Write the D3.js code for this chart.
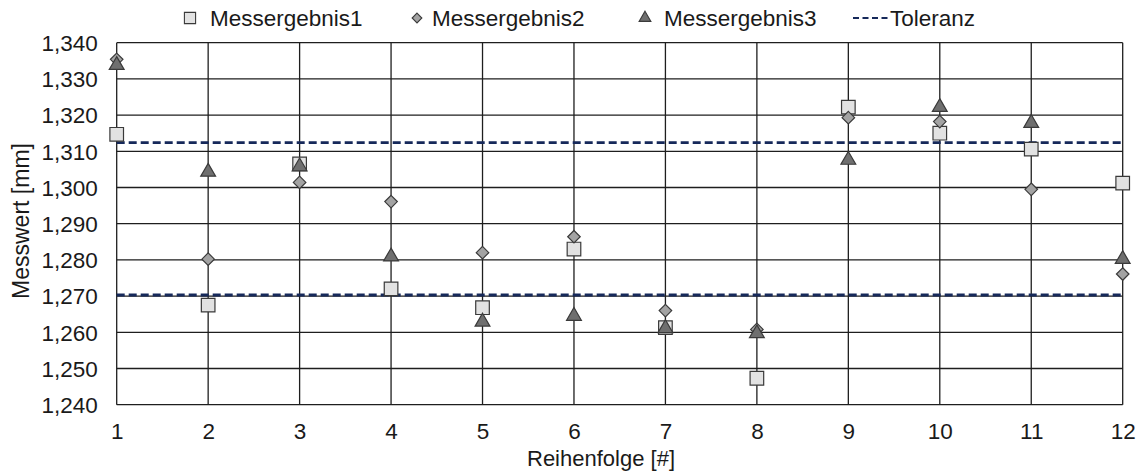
<!DOCTYPE html>
<html>
<head>
<meta charset="utf-8">
<script src="https://cdn.jsdelivr.net/npm/d3@7"></script>
<style>
  html, body { margin: 0; padding: 0; background: #fff; }
  svg text { font-family: "Liberation Sans", Arial, sans-serif !important; fill: #1a1a1a; }
</style>
</head>
<body>
<svg id="chart" width="1141" height="471"></svg>
<script>
const categories = [1, 2, 3, 4, 5, 6, 7, 8, 9, 10, 11, 12];
const messergebnis1 = [1.3147, 1.2675, 1.3065, 1.2720, 1.2668, 1.2830, 1.2613, 1.2473, 1.3222, 1.3150, 1.3106, 1.3012];
const messergebnis2 = [1.3354, 1.2802, 1.3014, 1.2961, 1.2820, 1.2864, 1.2660, 1.2608, 1.3193, 1.3182, 1.2995, 1.2761];
const messergebnis3 = [1.3338, 1.3043, 1.3058, 1.2809, 1.2629, 1.2645, 1.2611, 1.2597, 1.3076, 1.3222, 1.3178, 1.2802];
const toleranz = [1.3124, 1.2703];
const yTicks = [1.240, 1.250, 1.260, 1.270, 1.280, 1.290, 1.300, 1.310, 1.320, 1.330, 1.340];
const seriesNames = ["Messergebnis1", "Messergebnis2", "Messergebnis3", "Toleranz"];

const svg = d3.select("#chart");
const pL = 116.7, pR = 1122.7, pT = 42.7, pB = 404.7;

const x = d3.scaleLinear().domain([1, 12]).range([pL, pR]);
const y = d3.scaleLinear().domain([1.240, 1.340]).range([pB, pT]);
const fmt = v => d3.format(".3f")(v).replace(".", ",");

// grid
const grid = svg.append("g");
grid.selectAll("line.h").data(yTicks).join("line").attr("class", "h")
  .attr("x1", pL).attr("x2", pR)
  .attr("y1", d => y(d)).attr("y2", d => y(d))
  .attr("stroke", "#1e1e1e").attr("stroke-width", 1.3);
grid.selectAll("line.v").data(categories).join("line").attr("class", "v")
  .attr("y1", pT).attr("y2", pB)
  .attr("x1", d => x(d)).attr("x2", d => x(d))
  .attr("stroke", "#1e1e1e").attr("stroke-width", 1.3);

// axes
const yAxis = svg.append("g").attr("transform", `translate(${pL},0)`)
  .call(d3.axisLeft(y).tickValues(yTicks).tickFormat(fmt).tickSize(0).tickPadding(19));
yAxis.select(".domain").remove();
yAxis.attr("font-family", null);
yAxis.selectAll("text").style("font-size", "22.5px").attr("fill", "#1a1a1a").attr("dy", "0.35em");

const xAxis = svg.append("g").attr("transform", `translate(0,${pB})`)
  .call(d3.axisBottom(x).tickValues(categories).tickFormat(d3.format("d")).tickSize(0).tickPadding(18));
xAxis.select(".domain").remove();
xAxis.attr("font-family", null);
xAxis.selectAll("text").style("font-size", "22.5px").attr("fill", "#1a1a1a");

// axis titles
svg.append("text").attr("x", 601).attr("y", 466).attr("text-anchor", "middle")
  .style("font-size", "22px").text("Reihenfolge [#]");
svg.append("text").attr("transform", "translate(29,221) rotate(-90)").attr("text-anchor", "middle")
  .style("font-size", "23px").text("Messwert [mm]");

// tolerance lines
svg.selectAll("line.tol").data(toleranz).join("line").attr("class", "tol")
  .attr("x1", pL).attr("x2", pR)
  .attr("y1", d => y(d)).attr("y2", d => y(d))
  .attr("stroke", "#16295a").attr("stroke-width", 2.8).attr("stroke-dasharray", "8,4");

// markers
const mk = {
  sq: { type: d3.symbolSquare, size: 185, fill: "#e2e2e2" },
  di: { type: d3.symbolDiamond2, size: 100, fill: "#a3a3a3" },
  tr: { type: d3.symbolTriangle, size: 95, fill: "#6f6f6f" }
};
function plot(data, m) {
  svg.append("g").selectAll("path").data(data).join("path")
    .attr("d", d3.symbol().type(m.type).size(m.size))
    .attr("transform", (d, i) => `translate(${x(categories[i])},${y(d)})`)
    .attr("fill", m.fill).attr("stroke", "#3a3a3a").attr("stroke-width", 1.2);
}
plot(messergebnis1, mk.sq);
plot(messergebnis2, mk.di);
plot(messergebnis3, mk.tr);

// legend
const lg = svg.append("g");
const ly = 18;
const items = [
  { sym: mk.sq, mx: 190, tx: 210, size: 125 },
  { sym: mk.di, mx: 417, tx: 432, size: 60 },
  { sym: mk.tr, mx: 645, tx: 664, size: 60 }
];
items.forEach((it, i) => {
  lg.append("path").attr("d", d3.symbol().type(it.sym.type).size(it.size))
    .attr("transform", `translate(${it.mx},${ly})`)
    .attr("fill", it.sym.fill).attr("stroke", "#3a3a3a").attr("stroke-width", 1.1);
  lg.append("text").attr("x", it.tx).attr("y", ly + 8).style("font-size", "22.5px").text(seriesNames[i]);
});
lg.append("line").attr("x1", 853).attr("x2", 889).attr("y1", ly).attr("y2", ly)
  .attr("stroke", "#16295a").attr("stroke-width", 2).attr("stroke-dasharray", "6,3.5");
lg.append("text").attr("x", 890).attr("y", ly + 8).style("font-size", "22.5px").text(seriesNames[3]);
</script>
</body>
</html>
